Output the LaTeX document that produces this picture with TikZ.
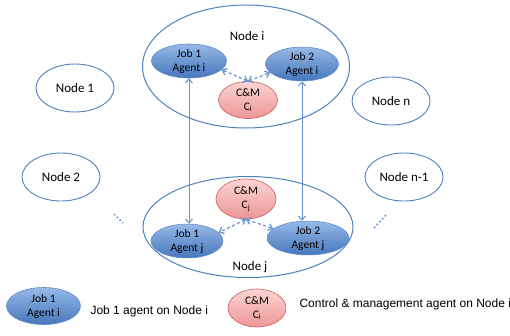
\documentclass[tikz,border=0pt]{standalone}
\usepackage{fontspec}
\setmainfont{Carlito}
\newfontfamily\legendfont{Liberation Sans}
\usetikzlibrary{arrows.meta,shapes.geometric}
\definecolor{hostcol}{RGB}{79,129,189}
\definecolor{jobtop}{RGB}{150,185,230}
\definecolor{jobbot}{RGB}{70,118,188}
\definecolor{jobedge}{RGB}{95,140,200}
\definecolor{cmtop}{RGB}{252,212,212}
\definecolor{cmbot}{RGB}{236,150,150}
\definecolor{cmedge}{RGB}{205,95,95}
\definecolor{linkcol}{RGB}{100,145,205}
\tikzset{
  host/.style={ellipse, draw=hostcol, line width=0.9pt, inner sep=0pt,
    minimum width=78pt, minimum height=48pt, font=\fontsize{13}{15}\selectfont},
  bighost/.style={ellipse, draw=hostcol, line width=1pt, inner sep=0pt},
  jobagent/.style={ellipse, draw=jobedge, line width=0.6pt, inner sep=0pt,
    top color=jobtop, bottom color=jobbot, align=center,
    font=\fontsize{11.5}{14}\selectfont},
  cmagent/.style={ellipse, draw=cmedge, line width=0.6pt, inner sep=0pt,
    top color=cmtop, bottom color=cmbot, align=center,
    font=\fontsize{11.5}{14}\selectfont},
  hostlabel/.style={font=\fontsize{13}{15}\selectfont},
  legendtext/.style={anchor=west, font=\legendfont\fontsize{12}{14}\selectfont},
  control/.style={<->, dashed, dash pattern=on 3pt off 2.5pt, line width=1.2pt, linkcol},
  migrate/.style={<->, line width=1pt, linkcol}
}

\begin{document}
\begin{tikzpicture}[x=1pt, y=-1pt, >={Straight Barb[length=4pt,width=7pt]}]
  \useasboundingbox (0,0) rectangle (510,335);

  % Node i.
  \node[bighost, minimum width=207pt, minimum height=123pt] (nodei) at (246,66.5) {};
  \node[hostlabel] (nodeilabel) at (247,36) {Node i};
  \node[jobagent, minimum width=75pt, minimum height=34pt] (jobAi) at (189,61) {Job 1\\Agent i};
  \node[jobagent, minimum width=73pt, minimum height=30pt] (jobBi) at (302,64) {Job 2\\Agent i};
  \node[cmagent, minimum width=59pt, minimum height=37pt] (cmi) at (248,100) {C\&M\\C\textsubscript{i}};

  % Node j.
  \node[bighost, minimum width=210pt, minimum height=101pt] (nodej) at (248,227) {};
  \node[hostlabel] (nodejlabel) at (250,267) {Node j};
  \node[cmagent, minimum width=60pt, minimum height=40pt] (cmj) at (246,199) {C\&M\\C\textsubscript{j}};
  \node[jobagent, minimum width=72pt, minimum height=31pt] (jobAj) at (187,241) {Job 1\\Agent j};
  \node[jobagent, minimum width=82pt, minimum height=29pt] (jobBj) at (308,238) {Job 2\\Agent j};

  % Other nodes.
  \node[host] (node1) at (75,88) {Node 1};
  \node[host] (node2) at (61,177) {Node 2};
  \node[host] (noden) at (391,101) {Node n};
  \node[host] (nodenm) at (404,177) {Node n-1};

  % Dots.
  \coordinate (dotsl) at (114,214);
  \coordinate (dotslend) at (123,223);
  \coordinate (dotsr) at (374,228);
  \coordinate (dotsrend) at (387,214);
  \draw[linkcol, line width=1.6pt, dash pattern=on 1.6pt off 2.4pt] (dotsl) -- (dotslend);
  \draw[linkcol, line width=1.6pt, dash pattern=on 1.6pt off 2.4pt] (dotsr) -- (dotsrend);

  % Control links.
  \draw[control] (cmi.north) -- (jobAi.-15);
  \draw[control] (cmi.north) -- (jobBi.195);
  \draw[control] (cmj.south) -- (jobAj.15);
  \draw[control] (cmj.south) -- (jobBj.165);

  % Job links between the nodes.
  \draw[migrate] (jobAi.south) -- (jobAi.south |- jobAj.north);
  \draw[migrate] (jobBi.south) -- (jobBi.south |- jobBj.north);

  % Legend.
  \node[jobagent, minimum width=74pt, minimum height=37pt] (legjob) at (43.5,306) {Job 1\\Agent i};
  \node[legendtext] (legjobtext) at (87,311) {Job 1 agent on Node i};
  \node[cmagent, minimum width=58pt, minimum height=38pt] (legcm) at (257,308) {C\&M\\C\textsubscript{i}};
  \node[legendtext] (legcmtext) at (296,304) {Control \& management agent on Node i};

\end{tikzpicture}
\end{document}
